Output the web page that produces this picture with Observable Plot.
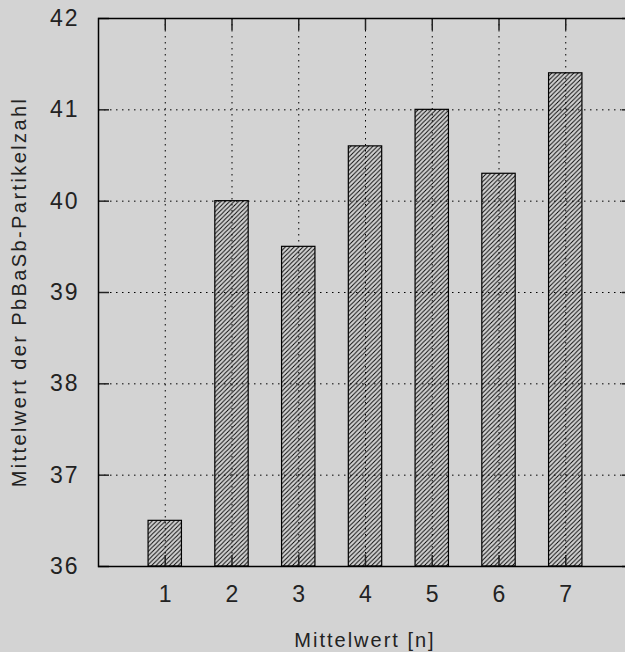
<!DOCTYPE html>
<html>
<head>
<meta charset="utf-8">
<script src="https://cdn.jsdelivr.net/npm/d3@7"></script>
<script src="https://cdn.jsdelivr.net/npm/@observablehq/plot@0.6"></script>
<style>
  html, body { margin: 0; padding: 0; background: #d3d3d3; overflow: hidden; }
  #chart { width: 625px; height: 652px; overflow: hidden; }
  svg { display: block; max-width: none !important; }
</style>
</head>
<body>
<div id="chart"></div>
<script>
// Data
const categories = [1, 2, 3, 4, 5, 6, 7];
const values = [36.5, 40.0, 39.5, 40.6, 41.0, 40.3, 41.4];
const xTicks = [1, 2, 3, 4, 5, 6, 7];
const yTicks = [36, 37, 38, 39, 40, 41, 42];
const xDomain = [0, 8];
const yDomain = [36, 42];
const barWidth = 0.5;
const xTitle = "Mittelwert [n]";
const yTitle = "Mittelwert der PbBaSb-Partikelzahl";

const data = categories.map((c, i) => ({n: c, v: values[i]}));

const W = 632, H = 652;
const mL = 98, mT = 18, mB = 86, mR = 0;
const FONT = "'Liberation Sans', Arial, sans-serif";

const plot = Plot.plot({
  width: W,
  height: H,
  marginLeft: mL,
  marginTop: mT,
  marginBottom: mB,
  marginRight: mR,
  style: {background: "#d3d3d3", fontFamily: FONT, color: "#222", maxWidth: "none", width: W + "px", height: H + "px"},
  x: {domain: xDomain, ticks: xTicks},
  y: {domain: yDomain, ticks: yTicks},
  marks: [
    Plot.rect(data, {
      x1: d => d.n - barWidth / 2,
      x2: d => d.n + barWidth / 2,
      y1: yDomain[0],
      y2: "v",
      fill: "#d3d3d3",
      stroke: "#000",
      strokeWidth: 1.2,
      className: "bars"
    }),
    Plot.gridX(xTicks, {stroke: "#000", strokeOpacity: 1, strokeWidth: 1, strokeDasharray: "1.5,4.5"}),
    Plot.gridY(yTicks.slice(1, -1), {stroke: "#000", strokeOpacity: 1, strokeWidth: 1, strokeDasharray: "1.5,4.5"}),
    Plot.axisX(xTicks, {anchor: "bottom", tickSize: 0, tickPadding: 19, fontSize: 23, label: null, tickFormat: d => String(d), className: "tlx"}),
    Plot.axisX(xTicks, {anchor: "bottom", tickSize: -11, text: null, label: null, strokeWidth: 1.5}),
    Plot.axisX(xTicks, {anchor: "top", tickSize: -11, text: null, label: null, strokeWidth: 1.5}),
    Plot.axisY(yTicks, {anchor: "left", tickSize: 0, tickPadding: 19, fontSize: 23, label: null, tickFormat: d => String(d), className: "tly"}),
    Plot.axisY(yTicks, {anchor: "left", tickSize: -11, text: null, label: null, strokeWidth: 1.5}),
    Plot.axisY(yTicks, {anchor: "right", tickSize: -11, text: null, label: null, strokeWidth: 1.5}),
    Plot.frame({stroke: "#000", strokeWidth: 1.5})
  ]
});

const svg = d3.select(plot);
svg.selectAll("g.tly text").attr("letter-spacing", "2px");
const defs = svg.insert("defs", ":first-child");
const pat = defs.append("pattern")
  .attr("id", "hatch")
  .attr("patternUnits", "userSpaceOnUse")
  .attr("width", 4.4)
  .attr("height", 4.4);
pat.append("rect").attr("width", 4.4).attr("height", 4.4).attr("fill", "#d3d3d3");
pat.append("path")
  .attr("d", "M-1,1 L1,-1 M0,4.4 L4.4,0 M3.4,5.4 L5.4,3.4")
  .attr("stroke", "#000")
  .attr("stroke-width", 0.9);
svg.selectAll("g.bars rect").attr("fill", "url(#hatch)");

// Axis titles
const xs = plot.scale("x"), ys = plot.scale("y");
const xMid = (xs.range[0] + xs.range[1]) / 2;
const yMid = (ys.range[0] + ys.range[1]) / 2;
svg.append("text")
  .attr("x", xMid)
  .attr("y", 647)
  .attr("text-anchor", "middle")
  .attr("font-family", FONT)
  .attr("font-size", 20)
  .attr("letter-spacing", "2px")
  .attr("fill", "#222")
  .text(xTitle);
svg.append("text")
  .attr("transform", `translate(26,${yMid}) rotate(-90)`)
  .attr("text-anchor", "middle")
  .attr("font-family", FONT)
  .attr("font-size", 20)
  .attr("letter-spacing", "2.4px")
  .attr("fill", "#222")
  .text(yTitle);

document.getElementById("chart").appendChild(plot);
</script>
</body>
</html>
